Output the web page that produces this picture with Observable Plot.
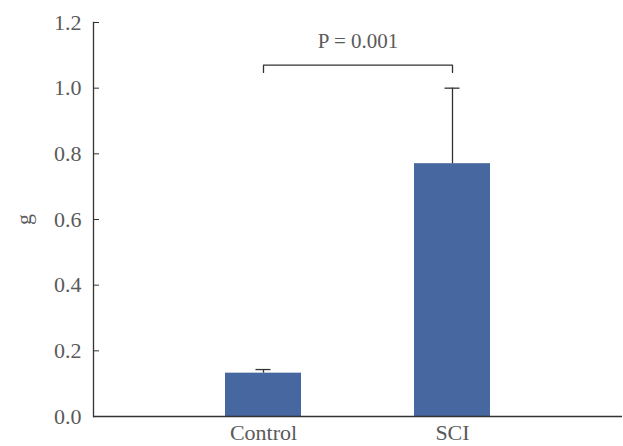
<!DOCTYPE html>
<html>
<head>
<meta charset="utf-8">
<script src="https://cdn.jsdelivr.net/npm/d3@7"></script>
<script src="https://cdn.jsdelivr.net/npm/@observablehq/plot@0.6"></script>
<style>
  html, body { margin: 0; padding: 0; background: #fff; }
  #chart svg { display: block; }
  #chart svg, #chart svg text { font-family: "Liberation Serif", "Times New Roman", serif !important; }
</style>
</head>
<body>
<div id="chart"></div>
<script>
const categories = ["Control", "SCI"];
const means = [0.132, 0.770];
const sds = [0.011, 0.230];
const yTicks = [0, 0.2, 0.4, 0.6, 0.8, 1.0, 1.2];
const bracketY = [1.048, 1.07, 1.07, 1.048];
const bracketX = ["Control", "Control", "SCI", "SCI"];
const pLabel = "P = 0.001";
const pLabelY = 1.142;
const yLabel = "g";

const data = categories.map((c, i) => ({cat: c, mean: means[i], top: means[i] + sds[i]}));
const bracket = bracketX.map((x, i) => ({x, y: bracketY[i]}));

const textColor = "#5a5a5a";
const axisColor = "#333";

const chart = Plot.plot({
  width: 623,
  height: 446,
  marginLeft: 93,
  marginRight: 1,
  marginTop: 22,
  marginBottom: 30,
  style: {fontSize: "21px", color: textColor, background: "#fff"},
  x: {domain: categories, paddingInner: 0.598, paddingOuter: 0.698},
  y: {domain: [0, 1.2]},
  marks: [
    Plot.barY(data, {x: "cat", y: "mean", fill: "#46679f"}),
    Plot.ruleX(data, {x: "cat", y1: "mean", y2: "top", stroke: axisColor, strokeWidth: 1.3}),
    Plot.tickY(data, {x: "cat", y: "top", stroke: axisColor, strokeWidth: 1.3, insetLeft: 30.5, insetRight: 30.5}),
    Plot.line(bracket, {x: "x", y: "y", stroke: axisColor, strokeWidth: 1.3}),
    Plot.text([pLabel], {text: d => d, y: () => pLabelY, frameAnchor: "top", lineAnchor: "middle", fontSize: 21, fill: textColor}),
    Plot.axisX({tickSize: 0, tickPadding: 8, label: null, fontSize: 22, color: textColor}),
    Plot.axisY({ticks: yTicks, tickFormat: d3.format(".1f"), tickSize: -6, tickPadding: 18, label: yLabel, labelAnchor: "center", labelArrow: "none", labelOffset: 78, fontSize: 22, color: textColor, stroke: axisColor}),
    Plot.ruleY([0], {stroke: axisColor, strokeWidth: 1.3}),
    Plot.frame({anchor: "left", stroke: axisColor, strokeWidth: 1.3})
  ]
});
document.getElementById("chart").appendChild(chart);
</script>
</body>
</html>
